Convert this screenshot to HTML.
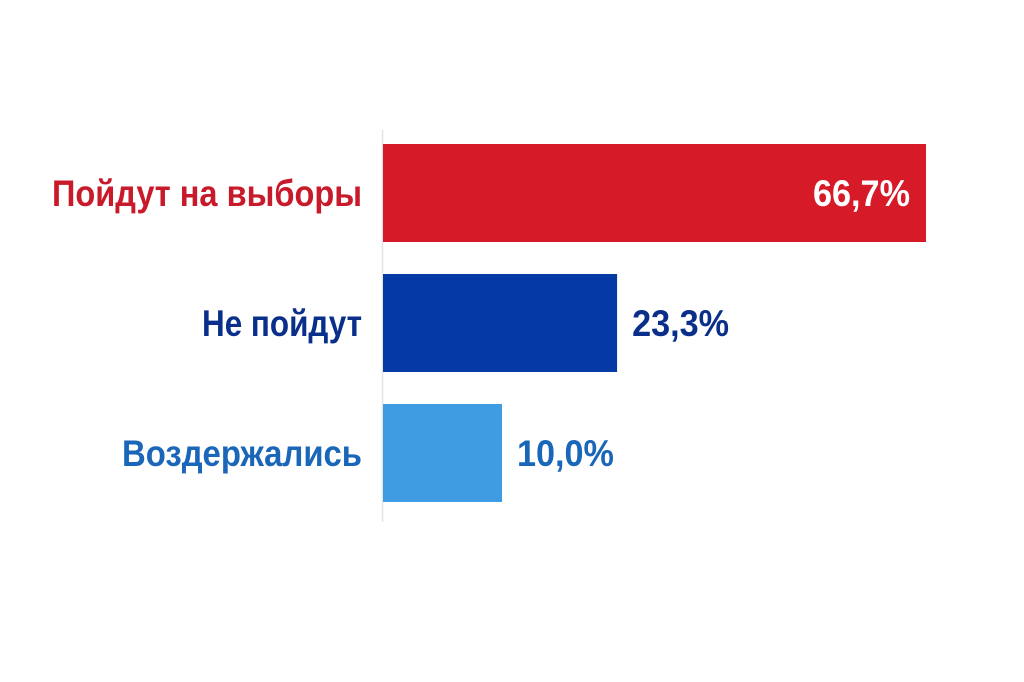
<!DOCTYPE html>
<html><head><meta charset="utf-8"><style>
html,body{margin:0;padding:0;background:#fff;}
svg{display:block;}
text{font-family:"Liberation Sans Narrow","Liberation Sans",sans-serif;font-weight:bold;}
</style></head><body>
<svg id="chart" width="1024" height="682" viewBox="0 0 1024 682" xmlns="http://www.w3.org/2000/svg">
<line x1="382.5" y1="130" x2="382.5" y2="522" stroke="#e4e4e4" stroke-width="1.5"/>
<g id="bars"></g>
</svg>
<script>
const categories = ["Пойдут на выборы", "Не пойдут", "Воздержались"];
const values = [66.7, 23.3, 10.0];
const valueLabels = ["66,7%", "23,3%", "10,0%"];
const barColors = ["#d71a28", "#0439a6", "#3f9ce2"];
const labelColors = ["#c81a2a", "#0a2f8a", "#1a66b8"];

const x0 = 383, xEnd = 926;
const vMax = 66.7, pw = 0.8;
function xScale(v){ return x0 + Math.pow(Math.max(v,0) / vMax, pw) * (xEnd - x0); }
const bandTop = 144, bandStep = 130, barH = 98;
function yScale(i){ return bandTop + i * bandStep; }

const NS = "http://www.w3.org/2000/svg";
const g = document.getElementById("bars");
const labelWidths = [310, 160, 240];
categories.forEach((c, i) => {
  const y = yScale(i);
  const w = xScale(values[i]) - x0;
  const r = document.createElementNS(NS, "rect");
  
  
  r.setAttribute("x", x0); r.setAttribute("y", y);
  r.setAttribute("width", w); r.setAttribute("height", barH);
  r.setAttribute("fill", barColors[i]);
  g.appendChild(r);

  const t = document.createElementNS(NS, "text");
  
  
  t.setAttribute("x", 362); t.setAttribute("y", y + barH / 2 + 13);
  t.setAttribute("text-anchor", "end");
  t.setAttribute("font-size", "37");
  t.setAttribute("textLength", labelWidths[i]);
  t.setAttribute("lengthAdjust", "spacingAndGlyphs");
  t.setAttribute("fill", labelColors[i]);
  t.textContent = c;
  g.appendChild(t);

  const v = document.createElementNS(NS, "text");
  
  
  const inside = i === 0;
  const bx = xScale(values[i]);
  v.setAttribute("x", inside ? bx - 16 : bx + 15);
  v.setAttribute("y", y + barH / 2 + 13);
  v.setAttribute("text-anchor", inside ? "end" : "start");
  v.setAttribute("font-size", "37");
  v.setAttribute("textLength", "97");
  v.setAttribute("lengthAdjust", "spacingAndGlyphs");
  v.setAttribute("fill", inside ? "#ffffff" : labelColors[i]);
  v.textContent = valueLabels[i];
  g.appendChild(v);
});
</script>
</body></html>
